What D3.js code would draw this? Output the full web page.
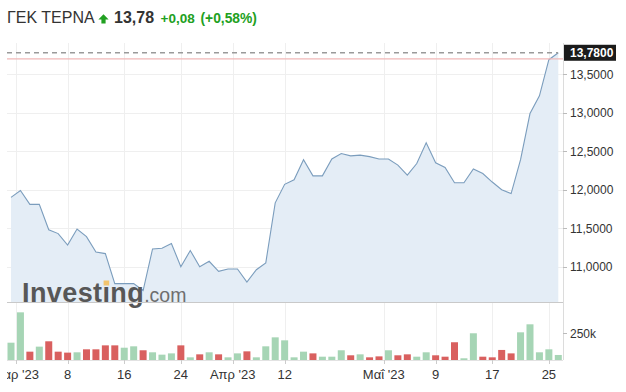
<!DOCTYPE html>
<html><head><meta charset="utf-8">
<script src="https://cdn.jsdelivr.net/npm/d3@7"></script>
<style>body{margin:0;background:#fff}svg{display:block;font-family:Arial,"Liberation Sans",sans-serif}</style>
</head><body><svg id="c" width="626" height="392"></svg>
<script>
// ---- data ----
const title = "ΓΕΚ ΤΕΡΝΑ";
const lastLabel = "13,78";
const changeAbs = "+0,08";
const changePct = "(+0,58%)";
const lastPrice = 13.78;
const prevClose = 13.70;
const dates = ["2023-02-28","2023-03-01","2023-03-02","2023-03-03","2023-03-06","2023-03-07","2023-03-08","2023-03-09","2023-03-10","2023-03-13","2023-03-14","2023-03-15","2023-03-16","2023-03-17","2023-03-20","2023-03-21","2023-03-22","2023-03-23","2023-03-24","2023-03-27","2023-03-28","2023-03-29","2023-03-30","2023-03-31","2023-04-03","2023-04-04","2023-04-05","2023-04-06","2023-04-11","2023-04-12","2023-04-13","2023-04-18","2023-04-19","2023-04-20","2023-04-21","2023-04-24","2023-04-25","2023-04-26","2023-04-27","2023-04-28","2023-05-02","2023-05-03","2023-05-04","2023-05-05","2023-05-08","2023-05-09","2023-05-10","2023-05-11","2023-05-12","2023-05-15","2023-05-16","2023-05-17","2023-05-18","2023-05-19","2023-05-22","2023-05-23","2023-05-24","2023-05-25","2023-05-26"];
const closes = [11.90,11.99,11.81,11.81,11.48,11.43,11.28,11.49,11.39,11.19,11.17,10.78,10.78,10.78,10.69,11.23,11.24,11.30,11.00,11.21,11.00,11.07,10.94,10.97,10.97,10.80,10.96,11.05,11.83,12.07,12.13,12.39,12.18,12.18,12.40,12.47,12.44,12.45,12.43,12.40,12.40,12.32,12.19,12.34,12.61,12.35,12.29,12.09,12.09,12.27,12.21,12.10,12.00,11.95,12.39,12.99,13.22,13.69,13.78];
const volumes = [162,446,78,125,175,78,69,72,100,100,137,137,115,128,91,72,50,62,137,25,53,72,53,25,62,81,25,128,212,184,25,78,62,31,31,91,44,53,25,34,91,44,53,31,72,44,31,166,16,250,31,25,94,62,259,334,72,100,47]; // thousands
const priceTicks = [11, 11.5, 12, 12.5, 13, 13.5];
const volumeTicks = [250];
const xTickDates = ["2023-03-01","2023-03-08","2023-03-16","2023-03-24","2023-04-03","2023-04-12","2023-05-02","2023-05-09","2023-05-17","2023-05-25"];
const xTickLabels = ["Μαρ '23","8","16","24","Απρ '23","12","Μαΐ '23","9","17","25"];

// ---- layout ----
const L = 7, R = 563, plotTop = 43, priceBottom = 302.3, volTop = 304, volBottom = 360;
const svg = d3.select("#c");
const gr = d3.formatLocale({decimal: ",", thousands: ".", grouping: [3], currency: ["", "€"]});
const fmt4 = gr.format(".4f");

const x = d3.scalePoint().domain(dates).range([11, 558.3]);
const step = x.step();
const y = d3.scaleLinear().domain([10.537, 13.907]).range([priceBottom, plotTop]);
const yv = d3.scaleLinear().domain([0, 524]).range([volBottom, volTop]);

const tickX = (d, i) => x(d) - (xTickLabels[i].includes("'") ? step / 2 : 0);

svg.append("defs").append("clipPath").attr("id", "xclip")
  .append("rect").attr("x", L).attr("y", 0).attr("width", 626 - L).attr("height", 392);

// gridlines
const grid = svg.append("g").attr("stroke", "#efefef").attr("stroke-width", 1);
grid.selectAll("line.h").data(priceTicks).join("line")
  .attr("x1", L).attr("x2", R).attr("y1", d => Math.round(y(d)) + 0.5).attr("y2", d => Math.round(y(d)) + 0.5);
grid.selectAll("line.v").data(xTickDates).join("line")
  .attr("x1", (d, i) => Math.round(tickX(d, i)) + 0.5).attr("x2", (d, i) => Math.round(tickX(d, i)) + 0.5)
  .attr("y1", plotTop).attr("y2", volBottom);

// area + line
const area = d3.area().x((d, i) => x(dates[i])).y0(priceBottom).y1(d => y(d));
svg.append("path").datum(closes).attr("d", area).attr("fill", "#e4edf6");
const line = d3.line().x((d, i) => x(dates[i])).y(d => y(d));
svg.append("path").datum(closes).attr("d", line).attr("fill", "none")
  .attr("stroke", "#7b9dbd").attr("stroke-width", 1.1);

// previous close line and last price dashed line
svg.append("line").attr("x1", L).attr("x2", R).attr("y1", y(prevClose)).attr("y2", y(prevClose))
  .attr("stroke", "#f0b8b8").attr("stroke-width", 1.2);
svg.append("line").attr("x1", L).attr("x2", 558).attr("y1", y(lastPrice)).attr("y2", y(lastPrice))
  .attr("stroke", "#9a9a9a").attr("stroke-width", 1.6).attr("stroke-dasharray", "5,4");

// watermark
const logo = svg.append("text").attr("x", 22).attr("y", 301.5);
logo.append("tspan").text("Invest").attr("font-size", 27).attr("font-weight", "bold").attr("fill", "#575757").attr("letter-spacing", 0.4);
logo.append("tspan").text("ı").attr("font-size", 27).attr("font-weight", "bold").attr("fill", "#575757").attr("letter-spacing", 0.4);
logo.append("tspan").text("ng").attr("font-size", 27).attr("font-weight", "bold").attr("fill", "#575757").attr("letter-spacing", 0.4);
logo.append("tspan").text(".com").attr("font-size", 19.5).attr("fill", "#6e6e6e");
const node = logo.node();
const iStart = node.getStartPositionOfChar(6).x, iEnd = node.getEndPositionOfChar(6).x;
svg.append("rect").attr("x", (iStart + iEnd) / 2 - 2.8).attr("y", 280.5).attr("width", 5.6).attr("height", 5)
  .attr("fill", "#f2c46e");

// price panel bottom border
svg.append("line").attr("x1", L).attr("x2", R).attr("y1", 302.5).attr("y2", 302.5).attr("stroke", "#c9c9c9");
// right axis line
svg.append("line").attr("x1", R + 0.5).attr("x2", R + 0.5).attr("y1", plotTop).attr("y2", volBottom).attr("stroke", "#dcdcdc");

// y axis labels
const ya = svg.append("g");
ya.selectAll("line").data(priceTicks).join("line")
  .attr("x1", R).attr("x2", R + 4).attr("y1", d => Math.round(y(d)) + 0.5).attr("y2", d => Math.round(y(d)) + 0.5).attr("stroke", "#bbb");
ya.selectAll("text").data(priceTicks).join("text")
  .attr("x", 570).attr("y", d => y(d)).attr("dy", "0.36em").attr("font-size", 12).attr("fill", "#333")
  .text(d => fmt4(d));
// last price box
svg.append("rect").attr("x", 564).attr("y", y(lastPrice) - 8).attr("width", 52).attr("height", 16).attr("fill", "#1b1b1b");
svg.append("text").attr("x", 570).attr("y", y(lastPrice)).attr("dy", "0.36em").attr("font-size", 12)
  .attr("font-weight", "bold").attr("fill", "#fff").text(fmt4(lastPrice));

// volume bars
const bw = 7;
svg.append("g").selectAll("rect").data(volumes).join("rect")
  .attr("x", (d, i) => x(dates[i]) - bw / 2).attr("width", bw)
  .attr("y", d => yv(d)).attr("height", d => volBottom - yv(d))
  .attr("fill", (d, i) => (i === 0 || closes[i] >= closes[i - 1]) ? "#a6d5b5" : "#d9605f");
svg.append("line").attr("x1", L).attr("x2", R).attr("y1", volBottom + 0.5).attr("y2", volBottom + 0.5).attr("stroke", "#e2e2e2");
const va = svg.append("g");
va.selectAll("line").data(volumeTicks).join("line")
  .attr("x1", R).attr("x2", R + 4).attr("y1", d => Math.round(yv(d)) + 0.5).attr("y2", d => Math.round(yv(d)) + 0.5).attr("stroke", "#bbb");
va.selectAll("text").data(volumeTicks).join("text")
  .attr("x", 570).attr("y", d => yv(d)).attr("dy", "0.36em").attr("font-size", 12).attr("fill", "#333")
  .text(d => d + "k");

// x axis (labels clipped at the plot's left edge, as in the original)
const xa = svg.append("g").attr("clip-path", "url(#xclip)");
xa.selectAll("line").data(xTickDates).join("line")
  .attr("x1", (d, i) => Math.round(tickX(d, i)) + 0.5).attr("x2", (d, i) => Math.round(tickX(d, i)) + 0.5)
  .attr("y1", volBottom).attr("y2", volBottom + 4).attr("stroke", "#ccc");
xa.selectAll("text").data(xTickDates).join("text")
  .attr("x", (d, i) => tickX(d, i)).attr("y", 378.5).attr("text-anchor", "middle")
  .attr("font-size", 13).attr("fill", "#333").text((d, i) => xTickLabels[i]);

// header
svg.append("text").attr("x", 7).attr("y", 23.3).attr("font-size", 16).attr("fill", "#333").text(title);
svg.append("path").attr("d", "M103.5,14.3 L108.6,19.6 L105.6,19.6 L105.6,23.5 L101.4,23.5 L101.4,19.6 L98.4,19.6 Z")
  .attr("fill", "#21a021");
svg.append("text").attr("x", 114).attr("y", 23.3).attr("font-size", 16).attr("font-weight", "bold").attr("fill", "#333").text(lastLabel);
svg.append("text").attr("x", 160.5).attr("y", 23.3).attr("font-size", 13.5).attr("font-weight", "bold").attr("fill", "#21a021").text(changeAbs);
svg.append("text").attr("x", 200.5).attr("y", 23.3).attr("font-size", 13.8).attr("font-weight", "bold").attr("fill", "#21a021").text(changePct);
</script></body></html>
